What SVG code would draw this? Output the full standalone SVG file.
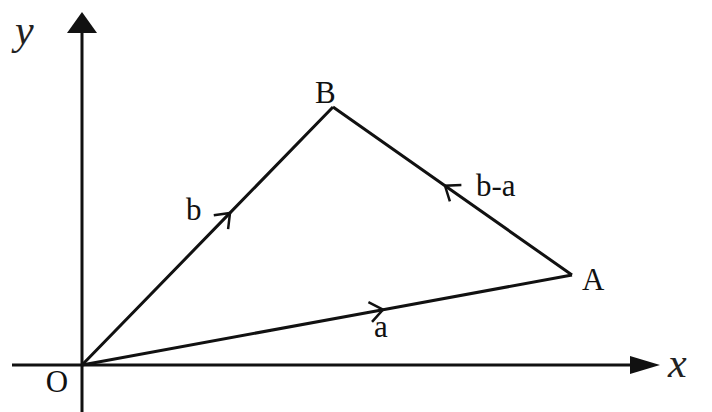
<svg xmlns="http://www.w3.org/2000/svg" width="712" height="412" viewBox="0 0 712 412">
<style>
.ax{stroke:#111;stroke-width:3;fill:none}
.vec{stroke:#111;stroke-width:3;fill:none;marker-mid:url(#chev)}
.head{fill:#111}
.lbl{font-family:'Liberation Serif','DejaVu Serif',serif;font-size:31px;fill:#111}
.it{font-family:'Liberation Serif','DejaVu Serif',serif;font-style:italic;font-size:42px;fill:#222}
</style>
<defs>
<marker id="chev" markerUnits="userSpaceOnUse" markerWidth="40" markerHeight="40" refX="20" refY="20" orient="auto" viewBox="0 0 40 40" overflow="visible">
<path d="M7,10 L20,20 L7,30" fill="none" stroke="#111" stroke-width="2.5"/>
</marker>
</defs>
<rect width="712" height="412" fill="#fff"/>
<g id="axes">
<line class="ax" x1="82" y1="412" x2="82" y2="30"/>
<polygon class="head" points="82,12 67,33 97,33"/>
<line class="ax" x1="12" y1="365" x2="632" y2="365"/>
<polygon class="head" points="660,365 630,356 630,374"/>
<text class="it" x="15" y="44" font-family="Liberation Serif">y</text>
<text class="it" x="668" y="377" font-family="Liberation Serif">x</text>
</g>
<g id="connectors">
<path class="vec" d="M82,365 L383,309.7 L572,275"/>
<path class="vec" d="M82,365 L230,212.9 L333,107"/>
<path class="vec" d="M572,275 L445,185.8 L333,107"/>
</g>
<g id="node-O"><text class="lbl" x="57" y="392" text-anchor="middle" font-family="Liberation Serif" font-size="32">O</text></g>
<g id="node-A"><text class="lbl" x="582" y="290" font-family="Liberation Serif">A</text></g>
<g id="node-B"><text class="lbl" x="315" y="103" font-family="Liberation Serif">B</text></g>
<g id="label-a"><text class="lbl" x="374" y="337" font-family="Liberation Serif">a</text></g>
<g id="label-b"><text class="lbl" x="186" y="220" font-family="Liberation Serif">b</text></g>
<g id="label-ba"><text class="lbl" x="476" y="196" font-family="Liberation Serif">b-a</text></g>
</svg>
